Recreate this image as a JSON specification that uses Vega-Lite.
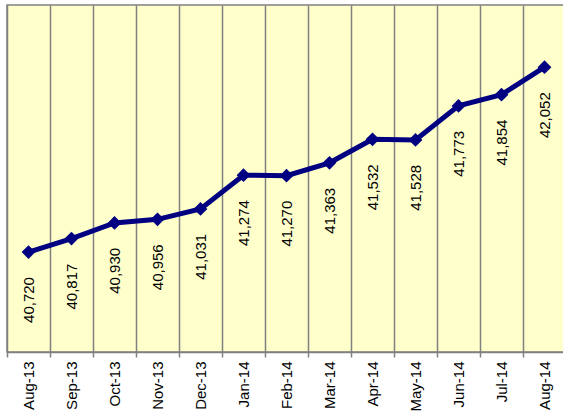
{
  "$schema": "https://vega.github.io/schema/vega-lite/v6.json",
  "width": 559,
  "height": 347,
  "autosize": {"type": "none"},
  "padding": {"left": 7, "top": 5, "right": 0, "bottom": 62},
  "background": "#ffffff",
  "config": {
    "view": {"fill": "#FFFFCC", "stroke": "#808080", "strokeWidth": 1.5},
    "font": "Liberation Sans"
  },
  "data": {
    "values": [
      {"month": "Aug-13", "value": 40720},
      {"month": "Sep-13", "value": 40817},
      {"month": "Oct-13", "value": 40930},
      {"month": "Nov-13", "value": 40956},
      {"month": "Dec-13", "value": 41031},
      {"month": "Jan-14", "value": 41274},
      {"month": "Feb-14", "value": 41270},
      {"month": "Mar-14", "value": 41363},
      {"month": "Apr-14", "value": 41532},
      {"month": "May-14", "value": 41528},
      {"month": "Jun-14", "value": 41773},
      {"month": "Jul-14", "value": 41854},
      {"month": "Aug-14", "value": 42052}
    ]
  },
  "encoding": {
    "x": {
      "field": "month",
      "type": "nominal",
      "sort": null,
      "scale": {"type": "band", "paddingInner": 0, "paddingOuter": 0},
      "axis": {
        "title": null,
        "bandPosition": 0,
        "grid": true,
        "gridColor": "#808080",
        "gridWidth": 1.5,
        "gridOpacity": 1,
        "domainColor": "#808080",
        "domainWidth": 1.5,
        "tickColor": "#808080",
        "tickWidth": 1.5,
        "tickSize": 5,
        "labelAngle": -90,
        "labelAlign": "right",
        "labelBaseline": "middle",
        "labelPadding": 4,
        "labelFontSize": 15,
        "labelColor": "#000000",
        "labelFont": "Liberation Sans"
      }
    },
    "y": {
      "field": "value",
      "type": "quantitative",
      "scale": {"domain": [40000, 42500], "nice": false, "zero": false},
      "axis": null
    }
  },
  "layer": [
    {
      "mark": {"type": "line", "color": "#000080", "strokeWidth": 5}
    },
    {
      "mark": {"type": "point", "shape": "diamond", "filled": true, "color": "#000080", "size": 190, "opacity": 1}
    },
    {
      "mark": {"type": "text", "angle": -90, "align": "right", "baseline": "middle", "dx": -25, "fontSize": 15, "color": "#000000", "font": "Liberation Sans"},
      "encoding": {"text": {"field": "value", "type": "quantitative", "format": ",.0f"}}
    }
  ]
}
